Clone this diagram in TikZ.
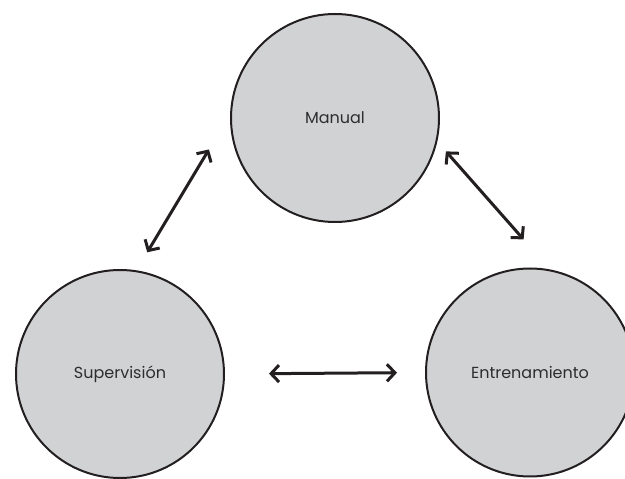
\documentclass[tikz,border=0pt]{standalone}
\usepackage{fontspec}
\setmainfont{Poppins}
\usepackage{xcolor}
\usepackage{tikz}
\usetikzlibrary{arrows.meta,positioning}

\definecolor{phasefill}{RGB}{209,210,212}
\definecolor{phaseline}{RGB}{35,31,32}
\definecolor{phasetext}{RGB}{45,45,45}

\begin{document}
\begin{tikzpicture}[
    x=1pt, y=1pt,
    phase/.style={draw=phaseline, fill=phasefill, circle, line width=2pt, minimum size=208pt, inner sep=0pt,
        text=phasetext, font=\fontsize{16}{18}\selectfont},
    link/.style={{Straight Barb[length=8pt,width=17pt]}-{Straight Barb[length=8pt,width=17pt]}, line width=3pt, draw=phaseline}
]
    \useasboundingbox (0,0) rectangle (625,479);
    \node[phase] (man) at (335,361) {Manual};
    \node[phase] (sup) at (120,105) {Supervisión};
    \node[phase] (entr) at (530,106.5) {Entrenamiento};

    \draw[link, shorten <=41pt, shorten >=21pt] (man.178) -- (sup.81);
    \draw[link, shorten <=13pt, shorten >=40pt] (man.347) -- (entr.79);
    \draw[link, shorten <=44pt, shorten >=28pt] (sup.east) -- (entr.west);
\end{tikzpicture}
\end{document}
